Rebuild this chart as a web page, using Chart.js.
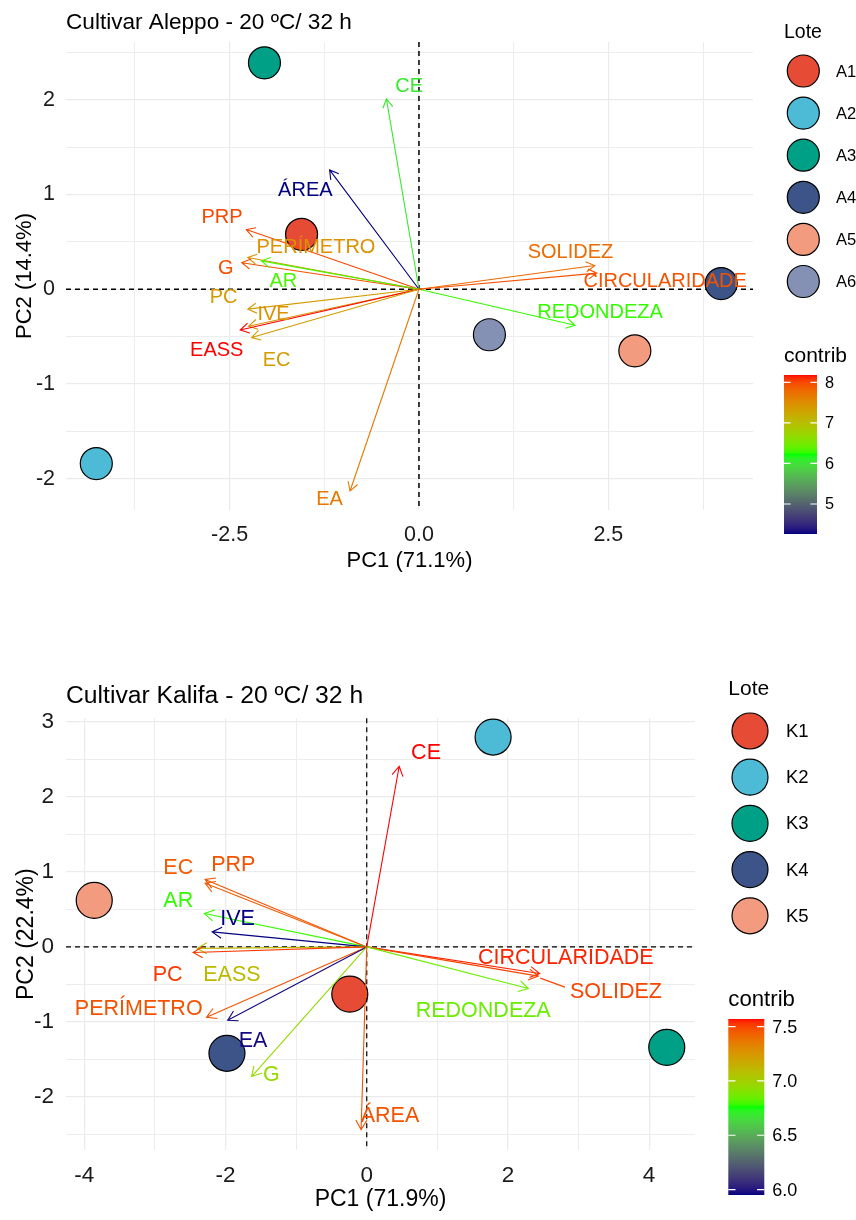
<!DOCTYPE html>
<html><head><meta charset="utf-8">
<script src="https://cdn.jsdelivr.net/npm/chart.js@4"></script>
<style>
html,body{margin:0;padding:0;background:#fff;}
.wrap{position:absolute;left:0;width:856px;height:610px;}
</style></head><body>
<div class="wrap" style="top:0"><canvas id="c1" width="856" height="610"></canvas></div>
<div class="wrap" style="top:610px"><canvas id="c2" width="856" height="610"></canvas></div>
<script>
// ---------------- DATA: Cultivar Aleppo ----------------
const title1 = 'Cultivar Aleppo - 20 ºC/ 32 h';
const xTitle1 = 'PC1 (71.1%)';
const yTitle1 = 'PC2 (14.4%)';
const lotes1 = ['A1','A2','A3','A4','A5','A6'];
const ptsX1 = [-1.55,-4.26,-2.04,3.99,2.85,0.93];
const ptsY1 = [0.58,-1.84,2.39,0.06,-0.65,-0.48];
const vars1 = ['CE','ÁREA','PRP','PERÍMETRO','G','AR','PC','IVE','EASS','EC','EA','REDONDEZA','SOLIDEZ','CIRCULARIDADE'];
const arrX1 = [-0.43,-1.18,-2.28,-2.26,-2.34,-2.08,-2.26,-2.25,-2.36,-2.21,-0.91,2.06,2.32,2.35];
const arrY1 = [2.01,1.26,0.63,0.335,0.28,0.30,-0.21,-0.39,-0.43,-0.51,-2.13,-0.38,0.25,0.17];
const contrib1 = [6.04,4.26,8.0,7.46,7.94,6.32,7.37,7.45,8.18,7.35,7.68,6.27,7.78,7.94];
const labX1 = [-0.13,-1.50,-2.60,-1.36,-2.55,-1.79,-2.58,-1.92,-2.67,-1.88,-1.18,2.39,2.00,3.25];
const labY1 = [2.15,1.056,0.77,0.45,0.235,0.095,-0.08,-0.26,-0.64,-0.74,-2.21,-0.23,0.40,0.088];
const xRange1 = [-4.66, 4.41];
const yRange1 = [-2.33, 2.61];
const xMajorVals1 = [-2.5, 0, 2.5];
const xMajorLabels1 = ['-2.5','0.0','2.5'];
const yMajorVals1 = [-2,-1,0,1,2];
const yMajorLabels1 = ['-2','-1','0','1','2'];
const cbTicks1 = [5,6,7,8];
const cbTickLabels1 = ['5','6','7','8'];

// ---------------- DATA: Cultivar Kalifa ----------------
const title2 = 'Cultivar Kalifa - 20 ºC/ 32 h';
const xTitle2 = 'PC1 (71.9%)';
const yTitle2 = 'PC2 (22.4%)';
const lotes2 = ['K1','K2','K3','K4','K5'];
const ptsX2 = [-0.24,1.79,4.25,-1.98,-3.86];
const ptsY2 = [-0.63,2.80,-1.34,-1.42,0.62];
const vars2 = ['CE','PRP','EC','AR','IVE','EASS','PC','PERÍMETRO','EA','G','ÁREA','CIRCULARIDADE','SOLIDEZ','REDONDEZA'];
const arrX2 = [0.46,-2.29,-2.29,-2.30,-2.19,-2.40,-2.46,-2.27,-1.97,-1.63,-0.08,2.45,2.43,2.29];
const arrY2 = [2.41,0.90,0.85,0.445,0.20,-0.02,-0.075,-0.94,-0.98,-1.73,-2.44,-0.355,-0.39,-0.555];
const contrib2 = [7.57,7.47,7.45,6.78,5.95,7.10,7.52,7.47,5.97,6.95,7.47,7.55,7.50,6.85];
const labX2 = [0.84,-1.89,-2.67,-2.67,-1.83,-1.91,-2.82,-3.23,-1.61,-1.35,0.33,2.82,3.53,1.65];
const labY2 = [2.60,1.11,1.06,0.62,0.38,-0.36,-0.36,-0.82,-1.25,-1.70,-2.24,-0.14,-0.59,-0.84];
const leader2 = ['SOLIDEZ'];
const xRange2 = [-4.26, 4.65];
const yRange2 = [-2.71, 3.05];
const xMajorVals2 = [-4,-2,0,2,4];
const xMajorLabels2 = ['-4','-2','0','2','4'];
const yMajorVals2 = [-2,-1,0,1,2,3];
const yMajorLabels2 = ['-2','-1','0','1','2','3'];
const cbTicks2 = [6.0,6.5,7.0,7.5];
const cbTickLabels2 = ['6.0','6.5','7.0','7.5'];

const npg = ['#E64B35','#4DBBD5','#00A087','#3C5488','#F39B7F','#8491B4'];
const FONT = '"Liberation Sans", Arial, sans-serif';

// ---------- Lab gradient (navy -> green -> red) ----------
function lin(c){c/=255;return c<=0.04045?c/12.92:Math.pow((c+0.055)/1.055,2.4);}
function delin(c){c=c<=0.0031308?12.92*c:1.055*Math.pow(c,1/2.4)-0.055;return Math.max(0,Math.min(255,Math.round(c*255)));}
function rgb2lab(c){const r=lin(c[0]),g=lin(c[1]),b=lin(c[2]);
 let X=(0.4124*r+0.3576*g+0.1805*b)/0.95047,Y=0.2126*r+0.7152*g+0.0722*b,Z=(0.0193*r+0.1192*g+0.9505*b)/1.08883;
 const f=t=>t>0.008856?Math.cbrt(t):7.787*t+16/116;
 const fx=f(X),fy=f(Y),fz=f(Z);return [116*fy-16,500*(fx-fy),200*(fy-fz)];}
function lab2rgb(l){const fy=(l[0]+16)/116,fx=fy+l[1]/500,fz=fy-l[2]/200;
 const fi=t=>t>0.206893?t*t*t:(t-16/116)/7.787;
 const X=fi(fx)*0.95047,Y=fi(fy),Z=fi(fz)*1.08883;
 const r=3.2406*X-1.5372*Y-0.4986*Z,g=-0.9689*X+1.8758*Y+0.0415*Z,b=0.0557*X-0.2040*Y+1.0570*Z;
 return 'rgb('+delin(r)+','+delin(g)+','+delin(b)+')';}
const gradStops=[[0,0,128],[0,255,0],[255,0,0]].map(rgb2lab);
function gradColor(v,min,max){let t=(v-min)/(max-min);t=Math.max(0,Math.min(1,t));
 const s=t*(gradStops.length-1);const i=Math.min(Math.floor(s),gradStops.length-2);const u=s-i;
 const a=gradStops[i],b=gradStops[i+1];return lab2rgb([a[0]+(b[0]-a[0])*u,a[1]+(b[1]-a[1])*u,a[2]+(b[2]-a[2])*u]);}

function arrow(ctx,x0,y0,x1,y1,len){
 ctx.beginPath();ctx.moveTo(x0,y0);ctx.lineTo(x1,y1);
 const ang=Math.atan2(y1-y0,x1-x0);
 const a1=ang+Math.PI-Math.PI/6,a2=ang+Math.PI+Math.PI/6;
 ctx.moveTo(x1+len*Math.cos(a1),y1+len*Math.sin(a1));ctx.lineTo(x1,y1);
 ctx.lineTo(x1+len*Math.cos(a2),y1+len*Math.sin(a2));ctx.stroke();}

function near(v,arr){return arr.findIndex(a=>Math.abs(a-v)<1e-6);}

function makePanel(P){
 const cmin=Math.min(...P.contrib),cmax=Math.max(...P.contrib);
 const plugin={id:'biplot',
  beforeDatasetsDraw(chart){
   const {ctx,chartArea:a,scales:{x,y}}=chart;
   ctx.save();ctx.setLineDash([5,4]);ctx.strokeStyle='#000';ctx.lineWidth=P.dashW;
   const x0=x.getPixelForValue(0),y0=y.getPixelForValue(0);
   ctx.beginPath();ctx.moveTo(x0,a.top);ctx.lineTo(x0,a.bottom);ctx.moveTo(a.left,y0);ctx.lineTo(a.right,y0);ctx.stroke();
   ctx.restore();
  },
  afterDatasetsDraw(chart){
   const {ctx,scales:{x,y}}=chart;
   const ox=x.getPixelForValue(0),oy=y.getPixelForValue(0);
   ctx.save();
   ctx.lineWidth=1.1;
   P.vars.forEach((v,i)=>{
    ctx.strokeStyle=gradColor(P.contrib[i],cmin,cmax);
    arrow(ctx,ox,oy,x.getPixelForValue(P.arrX[i]),y.getPixelForValue(P.arrY[i]),P.head);
   });
   ctx.font=P.fs.lab+'px '+FONT;ctx.textAlign='center';ctx.textBaseline='middle';
   P.vars.forEach((v,i)=>{
    const col=gradColor(P.contrib[i],cmin,cmax);
    const lx=x.getPixelForValue(P.labX[i]),ly=y.getPixelForValue(P.labY[i]);
    if(P.leaders.includes(v)){
     const w=ctx.measureText(v).width;
     ctx.strokeStyle=col;ctx.beginPath();
     ctx.moveTo(x.getPixelForValue(P.arrX[i])+2,y.getPixelForValue(P.arrY[i])+2);
     ctx.lineTo(lx-w/2-5,ly-4);ctx.stroke();
    }
    ctx.fillStyle=col;ctx.fillText(v,lx,ly+1);
   });
   // title
   ctx.textAlign='left';ctx.textBaseline='alphabetic';ctx.fillStyle='#000';
   ctx.font=P.fs.title+'px '+FONT;ctx.fillText(P.title,P.titleX,P.titleBase);
   // legend: Lote
   const L=P.leg;
   ctx.textBaseline='middle';
   ctx.font=P.fs.legTitle+'px '+FONT;ctx.fillText('Lote',L.x,L.titleY);
   ctx.font=P.fs.leg+'px '+FONT;
   P.lotes.forEach((l,i)=>{
    const cy=L.keyY0+i*L.keyStep;
    ctx.beginPath();ctx.arc(L.keyX,cy,P.r,0,Math.PI*2);ctx.fillStyle=npg[i];ctx.fill();
    ctx.lineWidth=1.2;ctx.strokeStyle='#000';ctx.stroke();
    ctx.fillStyle='#000';ctx.fillText(l,L.labX,cy+1);
   });
   // colorbar
   ctx.font=P.fs.cbTitle+'px '+FONT;ctx.fillStyle='#000';ctx.fillText('contrib',L.x,L.cbTitleY);
   const bt=L.barTop,bb=L.barBot,bw=L.barW;
   for(let py=bt;py<bb;py++){
    const v=cmax-(py+0.5-bt)/(bb-bt)*(cmax-cmin);
    ctx.fillStyle=gradColor(v,cmin,cmax);ctx.fillRect(L.x,py,bw,1);
   }
   ctx.strokeStyle='#fff';ctx.lineWidth=1.2;
   ctx.font=P.fs.cb+'px '+FONT;
   P.cbTicks.forEach((t,i)=>{
    const py=bb-(t-cmin)/(cmax-cmin)*(bb-bt);
    ctx.beginPath();ctx.moveTo(L.x,py);ctx.lineTo(L.x+bw/5,py);ctx.moveTo(L.x+bw-bw/5,py);ctx.lineTo(L.x+bw,py);ctx.stroke();
    ctx.fillStyle='#000';ctx.fillText(P.cbTickLabels[i],L.x+bw+8,py+1);
   });
   ctx.restore();
  }};
 const gridW=(vals)=>(c)=>(c.tick&&near(c.tick.value,vals)>=0)?1.2:0.9;
 const datasets=P.lotes.map((l,i)=>({label:l,data:[{x:P.ptsX[i],y:P.ptsY[i]}],
   backgroundColor:npg[i],borderColor:'#000',borderWidth:1.2,pointRadius:P.r,pointHoverRadius:P.r}));
 new Chart(document.getElementById(P.canvas),{
  type:'scatter',
  data:{datasets},
  options:{responsive:false,animation:false,devicePixelRatio:1,clip:false,
   events:[],
   layout:{padding:{top:P.area.top,right:856-P.area.right,left:0,bottom:0}},
   plugins:{legend:{display:false},tooltip:{enabled:false},title:{display:false}},
   scales:{
    x:{type:'linear',min:P.xRange[0],max:P.xRange[1],
     ticks:{stepSize:P.xStep,includeBounds:false,autoSkip:false,maxRotation:0,padding:P.xTickPad,
      color:'#1a1a1a',font:{family:FONT,size:P.fs.tick},
      callback:(v)=>{const k=near(v,P.xMajorVals);return k>=0?P.xMajorLabels[k]:'';}},
     grid:{color:'#ebebeb',lineWidth:gridW(P.xMajorVals),drawTicks:false},
     border:{display:false},
     title:{display:true,text:P.xTitle,color:'#000',font:{family:FONT,size:P.fs.axis},padding:{top:0,bottom:P.xTitlePad}},
     afterFit(s){s.height=P.H-P.area.bottom;}},
    y:{type:'linear',min:P.yRange[0],max:P.yRange[1],
     ticks:{stepSize:0.5,includeBounds:false,autoSkip:false,padding:P.yTickPad,
      color:'#1a1a1a',font:{family:FONT,size:P.fs.tick},
      callback:(v)=>{const k=near(v,P.yMajorVals);return k>=0?P.yMajorLabels[k]:'';}},
     grid:{color:'#ebebeb',lineWidth:gridW(P.yMajorVals),drawTicks:false},
     border:{display:false},
     title:{display:true,text:P.yTitle,color:'#000',font:{family:FONT,size:P.fs.axis},padding:{top:P.yTitlePad,bottom:0}},
     afterFit(s){s.width=P.area.left;}}
   }},
  plugins:[plugin]});
}

makePanel({canvas:'c1',H:610,area:{left:66,right:753,top:42,bottom:510},
 title:title1,titleX:66,titleBase:29.3,xTitle:xTitle1,yTitle:yTitle1,
 lotes:lotes1,ptsX:ptsX1,ptsY:ptsY1,vars:vars1,arrX:arrX1,arrY:arrY1,contrib:contrib1,labX:labX1,labY:labY1,leaders:[],
 xRange:xRange1,yRange:yRange1,xStep:1.25,xMajorVals:xMajorVals1,xMajorLabels:xMajorLabels1,yMajorVals:yMajorVals1,yMajorLabels:yMajorLabels1,
 cbTicks:cbTicks1,cbTickLabels:cbTickLabels1,
 fs:{title:22.6,tick:21.5,axis:22,lab:20,leg:16.5,legTitle:19.5,cbTitle:21,cb:16.3},
 xTickPad:11.8,xTitlePad:36.1,yTickPad:11,yTitlePad:11.8,r:16,head:10,dashW:1.5,
 leg:{x:784,titleY:33,keyX:803.3,keyY0:71,keyStep:42.1,labX:836,cbTitleY:356,barTop:375,barBot:534,barW:33}});

makePanel({canvas:'c2',H:610,area:{left:66,right:695,top:108.3,bottom:540},
 title:title2,titleX:66,titleBase:93.3,xTitle:xTitle2,yTitle:yTitle2,
 lotes:lotes2,ptsX:ptsX2,ptsY:ptsY2,vars:vars2,arrX:arrX2,arrY:arrY2,contrib:contrib2,labX:labX2,labY:labY2,leaders:leader2,
 xRange:xRange2,yRange:yRange2,xStep:1,xMajorVals:xMajorVals2,xMajorLabels:xMajorLabels2,yMajorVals:yMajorVals2,yMajorLabels:yMajorLabels2,
 cbTicks:cbTicks2,cbTickLabels:cbTickLabels2,
 fs:{title:24.7,tick:22.5,axis:23,lab:21.5,leg:18.5,legTitle:21,cbTitle:22.2,cb:18},
 xTickPad:12.2,xTitlePad:6.9,yTickPad:12,yTitlePad:13.2,r:18,head:11,dashW:1.2,
 leg:{x:728.3,titleY:79,keyX:750,keyY0:121,keyStep:46.2,labX:786,cbTitleY:390,barTop:409,barBot:585,barW:36}});
</script>
</body></html>
